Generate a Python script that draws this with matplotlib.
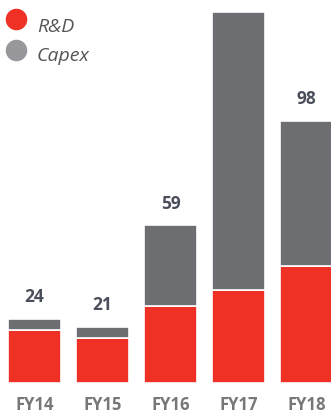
import matplotlib
matplotlib.use("Agg")
import matplotlib.pyplot as plt
import numpy as np

plt.rcParams['font.family'] = ['Open Sans', 'DejaVu Sans']

# Spending by fiscal year
years = ['FY14', 'FY15', 'FY16', 'FY17', 'FY18']
rd = [20, 17, 29, 35, 44]
capex = [4, 4, 30, 104, 54]
totals = [24, 21, 59, 139, 98]

red = '#EE3124'
grey = '#6D6E71'

W, H = 331, 414
fig = plt.figure(figsize=(W / 100, H / 100), dpi=100)

base_px = 30
ax = fig.add_axes([0, base_px / H, 1, 1 - base_px / H])
x = np.arange(len(years))

ax.bar(x, rd, width=0.78, color=red, edgecolor='white', linewidth=1.2)
ax.bar(x, capex, bottom=rd, width=0.78, color=grey, edgecolor='white', linewidth=1.2)

for xi, t in zip(x, totals):
    ax.annotate(str(t), (xi, t), xytext=(0, 10), textcoords='offset points',
                ha='center', va='bottom', fontsize=12.5, fontweight='bold',
                color='#4B4F5C')

ax.set_xlim(-34.5 / 68, (W - 34.5) / 68)
ax.set_ylim(0, (H - base_px) / 2.67)
ax.set_xticks(x)
ax.set_xticklabels(years, fontsize=12, fontweight='bold', color='#777777')
ax.tick_params(axis='x', length=0, pad=9)
ax.set_yticks([])
for s in ax.spines.values():
    s.set_visible(False)

# Legend drawn in figure pixel positions
for cy, col, lab, by in [(20, red, 'R&D', 32), (51, '#98989C', 'Capex', 61)]:
    fig.lines.append(plt.Line2D([16 / W], [1 - cy / H], marker='o', markersize=14.5,
                                color=col, linestyle='', transform=fig.transFigure))
    fig.text(37 / W, 1 - by / H, lab, fontsize=14, style='italic',
             color='#555555', va='baseline')

fig.savefig('out.png', dpi=100)
